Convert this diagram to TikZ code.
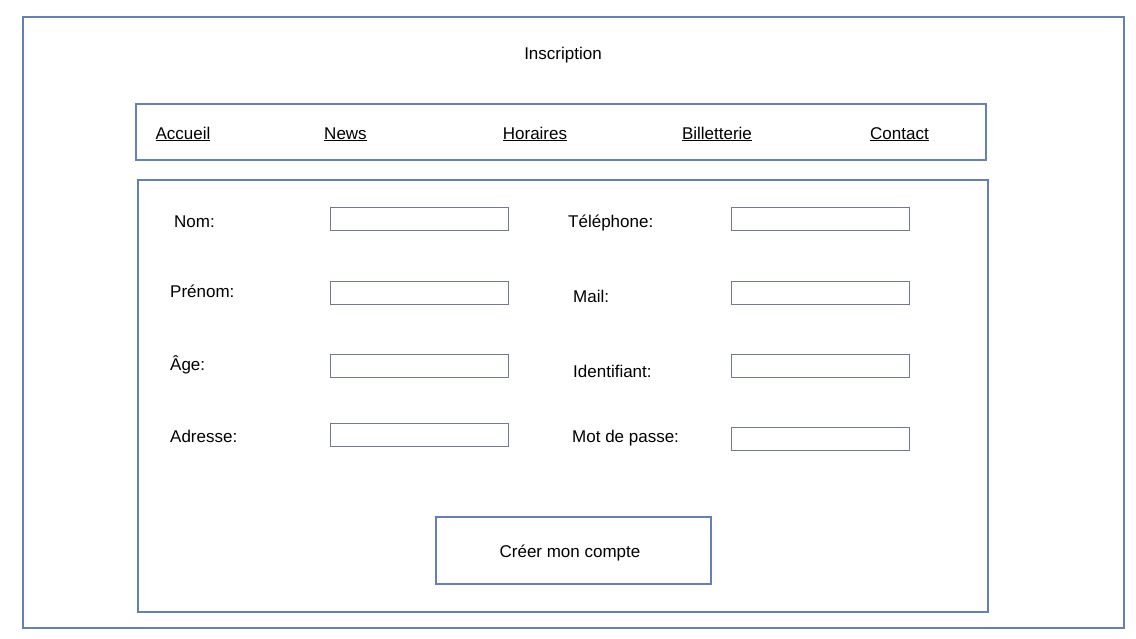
\documentclass[tikz,border=0pt]{standalone}
\usepackage{fontspec}
\setmainfont{Liberation Sans}
\usetikzlibrary{positioning}
\definecolor{frameblue}{HTML}{6480B4}
\definecolor{fieldgray}{HTML}{707C8C}
\tikzset{
    frame/.style={draw=frameblue, line width=1.2pt, inner sep=0pt},
    field/.style={draw=fieldgray, line width=1pt, minimum width=178pt, minimum height=23pt, inner sep=0pt},
    lbl/.style={anchor=west, inner sep=0pt, text height=12pt, text depth=0pt},
    navlink/.style={inner sep=0pt, text height=12pt, text depth=0pt}
}
\begin{document}
\begin{tikzpicture}[x=1pt,y=-1pt,font=\fontsize{17}{20}\selectfont]
            \useasboundingbox (0,0) rectangle (1136,638);
            \node[frame, minimum width=1101pt, minimum height=611pt] (page) at (573.5,322.5) {};
            \node[navlink] (title) at (563,53) {Inscription};
            % menu
            \node[frame, minimum width=850pt, minimum height=56pt] (menu) at (561,132) {};
            \foreach \nom/\txt/\x in {accueil/Accueil/183, news/News/345.5, horaires/Horaires/535, billet/Billetterie/717, contact/Contact/899.5}
                \node[navlink] (\nom) at (\x,133) {\underline{\txt}};
            % formulaire
            \node[frame, minimum width=850pt, minimum height=432pt] (form) at (563,396) {};
            \node[lbl] (nom) at (174,221) {Nom:};
            \node[lbl] (prenom) at (170,291) {Prénom:};
            \node[lbl] (age) at (170,364) {Âge:};
            \node[lbl] (adresse) at (170,436) {Adresse:};
            \node[field] (fnom) at (419,218.5) {};
            \node[field] (fprenom) at (419,292.5) {};
            \node[field] (fage) at (419,365.5) {};
            \node[field] (fadresse) at (419,434.5) {};
            \node[lbl] (tel) at (568,221) {Téléphone:};
            \node[lbl] (mail) at (573,296) {Mail:};
            \node[lbl] (ident) at (573,371) {Identifiant:};
            \node[lbl] (mdp) at (572,436) {Mot de passe:};
            \node[field] (ftel) at (820,218.5) {};
            \node[field] (fmail) at (820,292.5) {};
            \node[field] (fident) at (820,365.5) {};
            \node[field] (fmdp) at (820,438.5) {};
            \node[frame, minimum width=275pt, minimum height=67pt] (valider) at (573.5,550.5) {};
            \node[navlink] (vtxt) at (570,551) {Créer mon compte};
\end{tikzpicture}
\end{document}
